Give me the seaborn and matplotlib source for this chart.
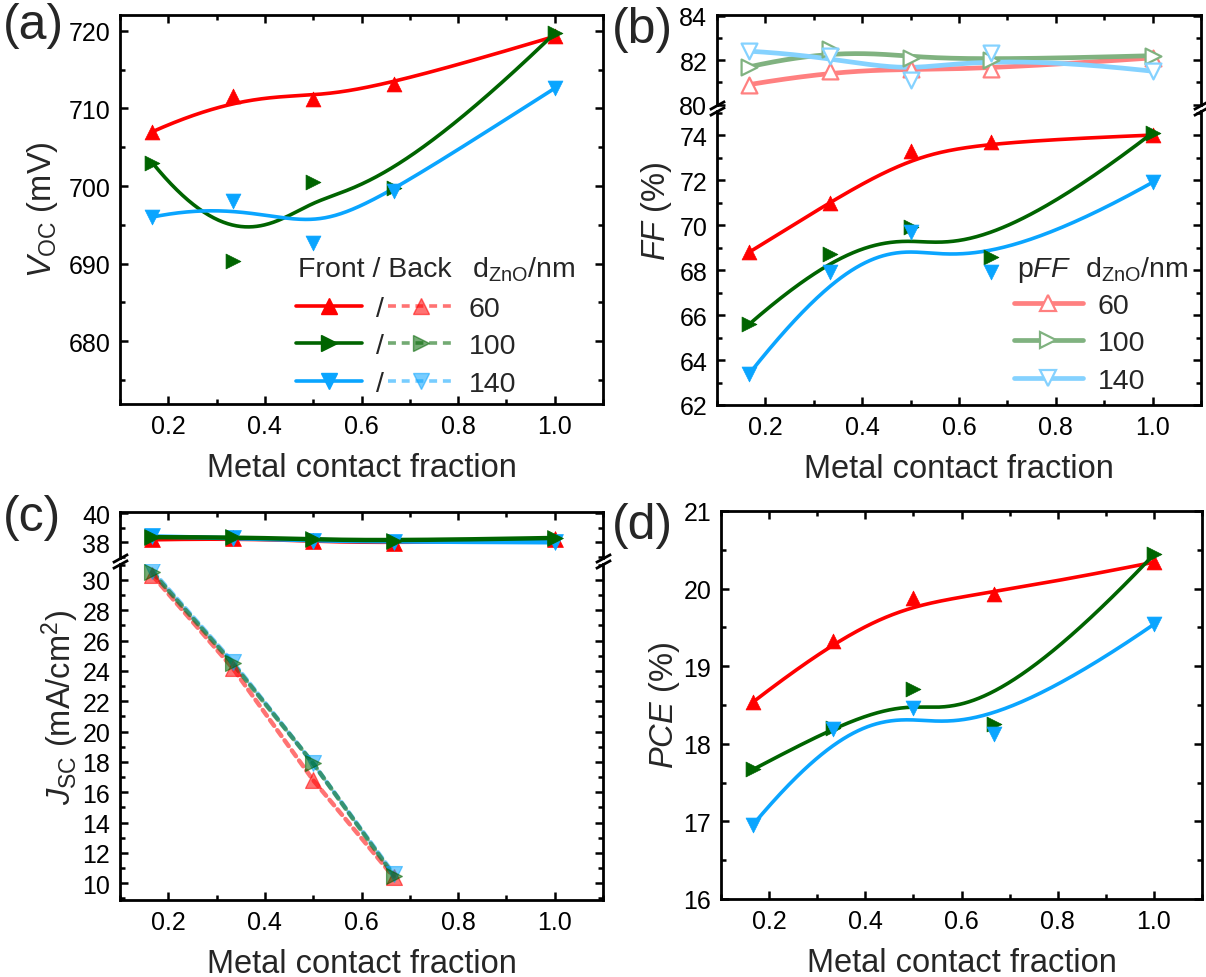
"""Four-panel summary of Voc, FF, Jsc and PCE versus metal contact fraction."""
import numpy as np
import pandas as pd
import matplotlib
matplotlib.use("Agg")
import matplotlib.pyplot as plt
from matplotlib.lines import Line2D
from matplotlib.ticker import MultipleLocator
import seaborn as sns

# ---- data ----
frac = [0.167, 0.333, 0.5, 0.667, 1.0]
frac_back = [0.167, 0.333, 0.5, 0.667]
thickness = ["60", "100", "140"]

voc_60 = [707.0, 711.6, 711.2, 713.1, 719.3]
voc_100 = [703.0, 690.3, 700.5, 699.7, 719.7]
voc_140 = [696.0, 698.1, 692.7, 699.4, 712.6]

ff_60 = [68.8, 71.0, 73.3, 73.7, 74.0]
ff_100 = [65.6, 68.7, 69.9, 68.6, 74.1]
ff_140 = [63.4, 67.9, 69.7, 67.9, 71.9]

pff_60 = [80.9, 81.5, 81.6, 81.6, 82.1]
pff_100 = [81.7, 82.5, 82.1, 82.0, 82.2]
pff_140 = [82.4, 82.2, 81.1, 82.3, 81.5]

jsc_front_60 = [38.2, 38.3, 38.1, 37.95, 38.2]
jsc_front_100 = [38.35, 38.35, 38.2, 38.1, 38.3]
jsc_front_140 = [38.4, 38.3, 38.1, 38.05, 38.0]
jsc_back_60 = [30.3, 24.2, 16.8, 10.4]
jsc_back_100 = [30.5, 24.5, 17.9, 10.5]
jsc_back_140 = [30.6, 24.6, 17.9, 10.6]

pce_60 = [18.54, 19.33, 19.88, 19.93, 20.34]
pce_100 = [17.67, 18.21, 18.71, 18.26, 20.44]
pce_140 = [16.96, 18.19, 18.46, 18.12, 19.54]

COLORS = ["#FF0000", "#006400", "#0AA5FF"]
LIGHT = ["#FF8080", "#80B280", "#85D2FF"]
MARKERS = ["^", ">", "v"]

sns.set_theme(style="ticks", rc={
    "axes.linewidth": 2.0,
    "xtick.major.width": 1.8, "ytick.major.width": 1.8,
    "xtick.minor.width": 1.8, "ytick.minor.width": 1.8,
    "xtick.major.size": 6, "ytick.major.size": 6,
    "xtick.minor.size": 3.5, "ytick.minor.size": 3.5,
    "mathtext.fontset": "custom",
    "mathtext.rm": "Liberation Sans",
    "mathtext.it": "Liberation Sans:italic",
})
plt.rcParams["font.family"] = ["Liberation Sans", "DejaVu Sans"]

W, H = 1206, 978
TICK_FS = 18
LABEL_FS = 23.5
LEG_FS = 20.5


def rect(l, t, r, b):
    return [l / W, 1 - b / H, (r - l) / W, (b - t) / H]


def bspline(xs, ys, k=3, n=300):
    """Clamped B-spline using the data points as control points (Origin style)."""
    pts = np.column_stack([xs, ys]).astype(float)
    m = len(pts)
    k = min(k, m - 1)
    knots = np.concatenate([np.zeros(k), np.linspace(0, 1, m - k + 1), np.ones(k)])
    t = np.linspace(0, 1, n)
    N = np.zeros((n, len(knots) - 1))
    for i in range(len(knots) - 1):
        if knots[i] < knots[i + 1]:
            N[:, i] = (t >= knots[i]) & (t < knots[i + 1])
    last = np.nonzero(knots[:-1] < knots[1:])[0].max()
    N[t >= 1, last] = 1.0
    for d in range(1, k + 1):
        Nn = np.zeros((n, len(knots) - 1 - d))
        for i in range(len(knots) - 1 - d):
            a = knots[i + d] - knots[i]
            b = knots[i + d + 1] - knots[i + 1]
            term = np.zeros(n)
            if a > 0:
                term += (t - knots[i]) / a * N[:, i]
            if b > 0:
                term += (knots[i + d + 1] - t) / b * N[:, i + 1]
            Nn[:, i] = term
        N = Nn
    c = N @ pts
    return c[:, 0], c[:, 1]


def smooth_series(ax, xs, ys, color, marker, lw=2.6, ms=115, alpha=1.0,
                  hollow=False, zorder=3):
    cx, cy = bspline(xs, ys)
    sns.lineplot(x=cx, y=cy, ax=ax, color=color, lw=lw, sort=False,
                 estimator=None, alpha=alpha, zorder=zorder)
    df = pd.DataFrame({"x": xs, "y": ys})
    if hollow:
        sns.scatterplot(data=df, x="x", y="y", ax=ax, marker=marker, s=ms,
                        facecolor="white", edgecolor=color, linewidth=1.6,
                        zorder=zorder + 1)
    else:
        sns.scatterplot(data=df, x="x", y="y", ax=ax, marker=marker, s=ms,
                        color=color, edgecolor=color, linewidth=0.5,
                        alpha=alpha, zorder=zorder + 1)


def style_axes(ax, ymajor, yminor, top=True, bottom=True, xlabels=True):
    ax.set_xlim(0.1, 1.1)
    ax.xaxis.set_major_locator(MultipleLocator(0.2))
    ax.xaxis.set_minor_locator(MultipleLocator(0.1))
    ax.yaxis.set_major_locator(MultipleLocator(ymajor))
    ax.yaxis.set_minor_locator(MultipleLocator(yminor))
    ax.tick_params(which="both", direction="in", left=True, right=True,
                   top=top, bottom=bottom, labelsize=TICK_FS, pad=7,
                   labelbottom=xlabels, color="black", labelcolor="black")
    for s in ax.spines.values():
        s.set_color("black")
        s.set_linewidth(2.0)
    ax.spines["top"].set_visible(top)
    ax.spines["bottom"].set_visible(bottom)
    ax.set_xlabel("")
    ax.set_ylabel("")
    if xlabels:
        ax.set_xlabel("Metal contact fraction", fontsize=LABEL_FS, labelpad=10)


def break_marks(ax, y):
    ax.plot([0, 1], [y, y], transform=ax.transAxes, marker=[(-1, -0.55), (1, 0.55)],
            markersize=11, linestyle="none", color="black", mec="black", mew=2,
            clip_on=False, zorder=10)


def px_ax(ax, px, py):
    bb = ax.get_position()
    return ((px / W - bb.x0) / bb.width, ((1 - py / H) - bb.y0) / bb.height)


fig = plt.figure(figsize=(12.06, 9.78), dpi=100)

# ---- (a) Voc ----
ax_a = fig.add_axes(rect(120, 16, 603, 405))
for vals, c, m in zip([voc_60, voc_100, voc_140], COLORS, MARKERS):
    smooth_series(ax_a, frac, vals, c, m)
ax_a.set_ylim(671.9, 722.05)
style_axes(ax_a, 10, 5)

solid_h = [Line2D([], [], color=c, lw=2.6, marker=m, ms=11) for c, m in zip(COLORS, MARKERS)]
dash_h = [Line2D([], [], color=c, lw=2.6, ls=(0, (2.2, 1.6)), marker=m, ms=11, alpha=0.55)
          for c, m in zip(COLORS, MARKERS)]
ax_a.legend(solid_h + dash_h, ["/"] * 3 + thickness, ncol=2, frameon=False,
            fontsize=LEG_FS, loc="upper left", bbox_to_anchor=px_ax(ax_a, 296, 297),
            handlelength=2.32, handletextpad=0.5, columnspacing=0.15,
            labelspacing=0.4, borderpad=0, borderaxespad=0)
ax_a.text(*px_ax(ax_a, 298, 277), "Front / Back", transform=ax_a.transAxes,
          fontsize=LEG_FS, ha="left", va="baseline")
ax_a.text(*px_ax(ax_a, 472, 277), "d$_{\\mathrm{ZnO}}$/nm", transform=ax_a.transAxes,
          fontsize=LEG_FS, ha="left", va="baseline")

# ---- (b) FF with pFF on a broken axis ----
ax_bt = fig.add_axes(rect(717, 16, 1201, 106))
ax_bb = fig.add_axes(rect(717, 112, 1201, 406))
for vals, c, m in zip([pff_60, pff_100, pff_140], LIGHT, MARKERS):
    smooth_series(ax_bt, frac, vals, c, m, lw=3.4, ms=130, hollow=True)
for vals, c, m in zip([ff_60, ff_100, ff_140], COLORS, MARKERS):
    smooth_series(ax_bb, frac, vals, c, m)
ax_bt.set_ylim(79.98, 84.03)
ax_bb.set_ylim(62, 75.07)
style_axes(ax_bt, 2, 1, top=True, bottom=False, xlabels=False)
style_axes(ax_bb, 2, 1, top=False, bottom=True)
break_marks(ax_bt, 0)
break_marks(ax_bb, 1)

pff_h = [Line2D([], [], color=c, lw=3.4, marker=m, ms=12, mfc="white", mec=c, mew=1.6)
         for c, m in zip(LIGHT, MARKERS)]
ax_bb.legend(pff_h, thickness, frameon=False, fontsize=LEG_FS, loc="upper left",
             bbox_to_anchor=px_ax(ax_bb, 1014, 294), handlelength=2.42,
             handletextpad=0.53, labelspacing=0.4, borderpad=0, borderaxespad=0)
ax_bb.text(*px_ax(ax_bb, 1017, 277), "p$\\mathit{FF}$", transform=ax_bb.transAxes,
           fontsize=LEG_FS, ha="left", va="baseline")
ax_bb.text(*px_ax(ax_bb, 1085, 277), "d$_{\\mathrm{ZnO}}$/nm", transform=ax_bb.transAxes,
           fontsize=LEG_FS, ha="left", va="baseline")

# ---- (c) Jsc front / back on a broken axis ----
ax_ct = fig.add_axes(rect(120, 513, 603, 559))
ax_cb = fig.add_axes(rect(120, 565, 603, 901))
for i in [0, 2, 1]:
    vals = [jsc_front_60, jsc_front_100, jsc_front_140][i]
    smooth_series(ax_ct, frac, vals, COLORS[i], MARKERS[i], lw=3.2, ms=130)
for i in [0, 2, 1]:
    vals = [jsc_back_60, jsc_back_100, jsc_back_140][i]
    sns.lineplot(x=frac_back, y=vals, ax=ax_cb, color=COLORS[i], lw=3.2,
                 alpha=0.55, estimator=None, sort=False, zorder=3,
                 linestyle=(0, (1.6, 1.2)), dash_capstyle="round")
    sns.scatterplot(x=frac_back, y=vals, ax=ax_cb, marker=MARKERS[i], s=130,
                    color=COLORS[i], edgecolor=COLORS[i], alpha=0.55, zorder=4)
ax_ct.set_ylim(36.93, 40.07)
ax_cb.set_ylim(8.9, 31.05)
style_axes(ax_ct, 2, 1, top=True, bottom=False, xlabels=False)
style_axes(ax_cb, 2, 1, top=False, bottom=True)
break_marks(ax_ct, 0)
break_marks(ax_cb, 1)

# ---- (d) PCE ----
ax_d = fig.add_axes(rect(721, 512, 1202, 900))
for vals, c, m in zip([pce_60, pce_100, pce_140], COLORS, MARKERS):
    smooth_series(ax_d, frac, vals, c, m)
ax_d.set_ylim(16, 21)
style_axes(ax_d, 1, 0.5)

for ax in [ax_bt, ax_ct, ax_cb, ax_d]:
    leg = ax.get_legend()
    if leg is not None:
        leg.remove()

# ---- y labels and panel letters ----
ylab = dict(rotation=90, ha="center", va="center", fontsize=LABEL_FS)
fig.text(42 / W, 1 - 210 / H, "$\\mathit{V}_{\\mathrm{OC}}$ (mV)", **ylab)
fig.text(656 / W, 1 - 211 / H, "$\\mathit{FF}$ (%)", **ylab)
fig.text(60 / W, 1 - 707 / H, "$\\mathit{J}_{\\mathrm{SC}}$ (mA/cm$^{2}$)", **ylab)
fig.text(664 / W, 1 - 706 / H, "$\\mathit{PCE}$ (%)", **ylab)

plab = dict(fontsize=36, ha="left", va="top")
fig.text(3 / W, 1 - 3 / H, "(a)", **plab)
fig.text(612 / W, 1 - 7 / H, "(b)", **plab)
fig.text(3 / W, 1 - 495 / H, "(c)", **plab)
fig.text(612 / W, 1 - 503 / H, "(d)", **plab)

fig.savefig("out.png", dpi=100)
